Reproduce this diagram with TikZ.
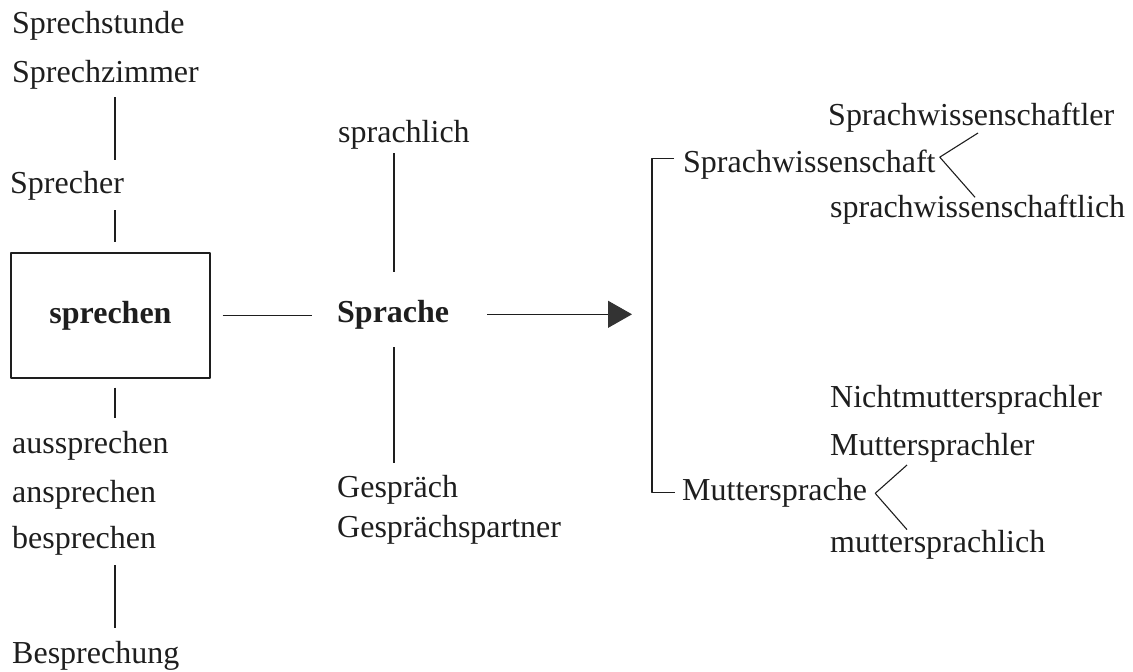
\documentclass[tikz,border=0pt]{standalone}
\usepackage{fontspec}
\setmainfont{Liberation Serif}
\usetikzlibrary{arrows.meta,calc}
\definecolor{ink}{HTML}{1E1E1E}
\definecolor{tipgray}{HTML}{333333}
\tikzset{
  every picture/.style={line join=round, >=Stealth},
  word/.style={anchor=base west, inner sep=0pt, text=ink, font=\fontsize{32}{38}\selectfont},
  key/.style={word, font=\fontsize{32}{38}\selectfont\bfseries},
  link/.style={draw=ink, line width=1.1pt},
  stem/.style 2 args={link, shorten <=#1, shorten >=#2},
}

\begin{document}
\begin{tikzpicture}[x=1pt,y=-1pt]
\useasboundingbox (0,0) rectangle (1133,672);
% left column: sprechen
\node[word] (stunde) at (12,33) {Sprechstunde};
\node[word] (zimmer) at (12,82) {Sprechzimmer};
\node[word] (sprecher) at (10,193) {Sprecher};
\node[link, text=ink, font=\fontsize{32}{38}\selectfont\bfseries, minimum width=199pt, minimum height=125pt, inner sep=0pt] (sprechen) at (110.5,315.5) {sprechen};
\node[word] (aus) at (12,453) {aussprechen};
\node[word] (an) at (12,502) {ansprechen};
\node[word] (bes) at (12,548) {besprechen};
\node[word] (bespr) at (12,663) {Besprechung};
\coordinate (stemL) at ([xshift=4.5pt]sprechen.north);
\draw[stem={8pt}{11pt}] (zimmer.south -| stemL) -- (sprecher.north -| stemL);
\draw[stem={10pt}{10pt}] (sprecher.south -| stemL) -- (sprechen.north -| stemL);
\draw[stem={9pt}{13pt}] (sprechen.south -| stemL) -- (aus.north -| stemL);
\draw[stem={10pt}{13pt}] (bes.south -| stemL) -- (bespr.north -| stemL);
% middle column: Sprache
\node[key] (sprache) at (337,322) {Sprache};
\node[word] (lich) at (338,142) {sprachlich};
\node[word] (gespr) at (337,497) {Gespräch};
\node[word] (partner) at (337,537) {Gesprächspartner};
\coordinate (stemM) at ([xshift=57pt]sprache.west);
\draw[stem={4pt}{28pt}] (lich.south -| stemM) -- (sprache.north -| stemM);
\draw[stem={18pt}{12pt}] (sprache.south -| stemM) -- (gespr.north -| stemM);
\draw[link, shorten <=12pt, shorten >=25pt] (sprechen.east) -- (sprechen.east -| sprache.west);
% right column: compounds
\node[word] (wiss) at (683,172) {Sprachwissenschaft};
\node[word] (wissler) at (828,125) {Sprachwissenschaftler};
\node[word] (wisslich) at (830,217) {sprachwissenschaftlich};
\node[word] (mutter) at (682,500) {Muttersprache};
\node[word] (nicht) at (830,407) {Nichtmuttersprachler};
\node[word] (mler) at (830,455) {Muttersprachler};
\node[word] (mlich) at (830,552) {muttersprachlich};
% bracket and arrow
\coordinate (top) at ([xshift=-31pt,yshift=6pt]wiss.west);
\draw[link] ([xshift=-9pt,yshift=6pt]wiss.west) -- (top) -- (top |- mutter.west) -- ([xshift=-7pt]mutter.west);
\draw[link, -{Triangle[length=24pt,width=27pt,color=tipgray]}, shorten <=38pt, shorten >=20pt] (sprache.east) -- (sprache.east -| top);
% forks
\draw[link] ($(wissler.south west)+(150,1)$) -- ($(wiss.east)+(4,-7)$) -- ($(wisslich.north west)+(145,3)$);
\draw[link] ($(mler.south west)+(77,3)$) -- ($(mutter.east)+(8,1)$) -- ($(mlich.north west)+(77,0)$);
\end{tikzpicture}
\end{document}
